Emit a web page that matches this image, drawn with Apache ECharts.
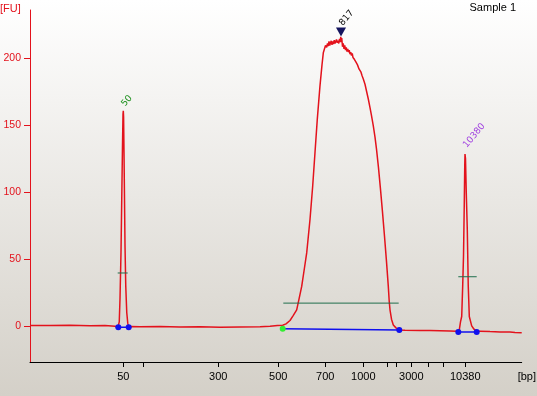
<!DOCTYPE html>
<html>
<head>
<meta charset="utf-8">
<script src="https://cdn.jsdelivr.net/npm/echarts@6/dist/echarts.min.js"></script>
<style>html,body{margin:0;padding:0;}#c{width:537px;height:396px;}</style>
</head>
<body>
<div id="c"></div>
<script>
// ladder (size standard) tick marks on the migration-time axis
const ladderBp   = [50, 100, 300, 500, 700, 1000, 1500, 2000, 3000, 5000, 7000, 10380];
const ladderTime = [38.66, 42.66, 57.66, 69.66, 79.06, 86.66, 91.46, 93.34, 96.26, 99.74, 102.66, 107.06];
const labeledBp  = [50, 300, 500, 700, 1000, 3000, 10380];
const fuTicks    = [0, 50, 100, 150, 200];

// electropherogram trace: migration time (s) and fluorescence (FU)
const traceTime = [20, 24, 28, 32, 35, 37.0, 37.6, 37.85, 38.0, 38.2, 38.35, 38.5, 38.6, 38.66, 38.72, 38.8, 38.9, 39.0, 39.15, 39.35, 39.55, 39.74,
  40.2, 42, 46, 50, 54, 58, 62, 66, 68, 69.5, 70.54, 71.2, 72, 72.6, 73.34, 73.8, 74.34, 74.8, 75.34, 76, 76.54, 77, 77.46, 78, 78.4, 78.66, 78.9, 79.1, 79.34,
  79.5, 79.65, 79.8, 79.95, 80.1, 80.25, 80.4, 80.55, 80.7, 80.85, 81.0, 81.15, 81.3, 81.45, 81.6, 81.75, 81.9, 82.05, 82.15, 82.25, 82.35, 82.5, 82.65,
  82.8, 82.95, 83.1, 83.25, 83.4, 83.55, 83.7, 83.85, 84.0, 84.15, 84.3, 84.45, 84.6, 84.75, 84.9, 85.05, 85.2, 85.35, 85.5, 85.65, 85.8, 86.0, 86.2,
  86.4, 86.66, 87.0, 87.3, 87.66, 88.0, 88.3, 88.66, 89.0, 89.3, 89.7, 90.1, 90.5, 90.9, 91.3, 91.66, 91.85, 92.0,
  92.3, 92.66, 93.2, 93.86, 95, 98, 100, 102, 104, 105.3, 105.66, 105.86, 106.1, 106.34, 106.54, 106.7, 106.85, 106.95, 107.0, 107.1, 107.25,
  107.46, 107.65, 107.86, 108.34, 108.8, 109.34, 110, 112, 114, 116, 117, 118.34];
const traceFU = [0.3, 0.2, 0.4, 0.1, 0.2, -0.3, -0.8, 3, 20, 55, 95, 135, 158, 160.7, 156, 130, 95, 60, 30, 10, 2, -0.8,
  -0.4, -0.6, -0.5, -0.8, -0.7, -1.0, -0.8, -0.6, -0.3, 0.2, 0.5, 1.5, 4, 7.5, 12, 20, 29.5, 41, 54.5, 79.5, 104.5, 129.5, 154.5, 179.5, 195, 204, 207, 209.5, 208,
  211, 209, 212.5, 209.5, 211.5, 213, 210, 212.5, 210.5, 213.5, 211, 212, 214, 211.5, 213, 211, 214.5, 212, 216, 212, 215, 208.5, 211,
  207, 209.5, 206, 208, 205, 207, 204.5, 206, 203, 204.5, 202, 203.5, 200.5, 201.5, 199, 199.5, 197, 197.5, 195, 194.5, 192, 191, 189.5,
  187, 184.5, 180.5, 175.5, 169.5, 163, 157, 149.5, 141, 132, 118, 102, 85, 67, 48, 29.5, 18, 12,
  5, 0.7, -1.5, -3, -3.3, -3.5, -3.4, -3.6, -3.8, -4, -4.3, -3, 3, 7, 30, 52, 90, 120, 128.4, 125, 100,
  71.6, 30, 7, 0, -2.5, -4, -4, -4.3, -4.5, -4.6, -5, -5.2];

// peak table
const peakLabel   = ['50', '817', '10380'];
const peakTime    = [38.66, 82.2, 107.0];
const peakTopFU   = [160.7, 219.6, 128.4];
const peakStartT  = [37.66, 70.54, 105.66];
const peakEndT    = [39.74, 93.86, 109.34];
const peakStartFU = [-1, -2.2, -4.5];
const peakEndFU   = [-1, -3.0, -4.5];
const levelStartT = [37.54, 70.66, 105.66];
const levelEndT   = [39.54, 93.74, 109.34];
const levelFU     = [39.5, 17, 36.7];

const RED = '#e3121c';
const FONT = 'Liberation Sans';
const labeledTime = ladderTime.filter((t, i) => labeledBp.includes(ladderBp[i]));

const series = [];
series.push({
  type: 'line', data: traceTime.map((t, i) => [t, traceFU[i]]), showSymbol: false, symbol: 'none',
  lineStyle: { color: RED, width: 1.5 }, z: 3, silent: true
});
const labelColors = ['#1a8f1a', '#000000', '#a040e0'];
const labelDist = [5, 7, 7];
for (let i = 0; i < peakLabel.length; i++) {
  series.push({
    type: 'line', data: [[levelStartT[i], levelFU[i]], [levelEndT[i], levelFU[i]]], symbol: 'none',
    lineStyle: { color: '#1f6e4c', width: 1 }, z: 4
  });
  series.push({
    type: 'line', data: [
      { value: [peakStartT[i], peakStartFU[i]], itemStyle: { color: i === 1 ? '#33ee33' : '#1010ee' } },
      { value: [peakEndT[i], peakEndFU[i]], itemStyle: { color: '#1010ee' } }
    ],
    symbol: 'circle', symbolSize: 6, showSymbol: true,
    lineStyle: { color: '#1010ee', width: 1.5 }, z: 5
  });
}
series.push({
  type: 'scatter', data: [[peakTime[1], peakTopFU[1]]], symbol: 'triangle', symbolRotate: 180,
  symbolSize: [10, 9], itemStyle: { color: '#14145e', opacity: 1 }, z: 6
});
series.push({
  type: 'scatter', symbolSize: 1, itemStyle: { color: 'rgba(0,0,0,0)', opacity: 1 }, z: 7,
  data: peakLabel.map((l, i) => ({
    value: [peakTime[i], peakTopFU[i]],
    label: {
      show: true, formatter: l, position: 'top', distance: labelDist[i], rotate: 50,
      align: 'left', verticalAlign: 'middle', color: labelColors[i], fontSize: 9, fontFamily: 'DejaVu Sans'
    }
  }))
});

const chart = echarts.init(document.getElementById('c'), null, { renderer: 'canvas' });
chart.setOption({
  animation: false,
  backgroundColor: { type: 'linear', x: 0, y: 0, x2: 0, y2: 1,
    colorStops: [{ offset: 0, color: '#ffffff' }, { offset: 1, color: '#d4d0c8' }] },
  grid: { left: 30, right: 15.3, top: 10, bottom: 34 },
  xAxis: {
    type: 'value', min: 20, max: 118.34,
    axisLine: { onZero: false, lineStyle: { color: '#000', width: 1 } },
    axisTick: { show: true, customValues: ladderTime, length: 5, lineStyle: { color: '#000' } },
    axisLabel: {
      customValues: labeledTime, color: '#000', fontSize: 11, fontFamily: FONT, margin: 9,
      formatter: v => { const i = ladderTime.findIndex(t => Math.abs(t - v) < 0.01); return i >= 0 ? String(ladderBp[i]) : ''; }
    },
    splitLine: { show: false }
  },
  yAxis: {
    type: 'value', min: -27, max: 236,
    axisLine: { show: true, onZero: false, lineStyle: { color: RED, width: 1 } },
    axisTick: { show: true, inside: false, customValues: fuTicks, length: 6, lineStyle: { color: RED } },
    axisLabel: { customValues: fuTicks, color: RED, fontSize: 10.5, fontFamily: FONT, margin: 9 },
    splitLine: { show: false }
  },
  graphic: [
    { type: 'text', left: 0, top: 3, style: { text: '[FU]', fill: RED, font: '11px "Liberation Sans"' } },
    { type: 'text', right: 1, top: 371, style: { text: '[bp]', fill: '#000', font: '11px "Liberation Sans"' } },
    { type: 'text', right: 21, top: 2, style: { text: 'Sample 1', fill: '#000', font: '11px "Liberation Sans"' } }
  ],
  series: series
});
</script>
</body>
</html>
